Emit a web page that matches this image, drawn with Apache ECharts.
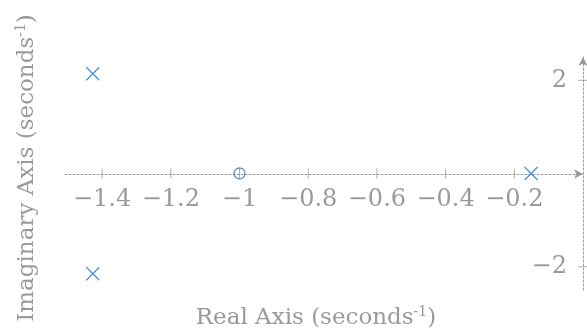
<!DOCTYPE html>
<html>
<head>
<meta charset="utf-8">
<script src="https://cdn.jsdelivr.net/npm/echarts@6/dist/echarts.min.js"></script>
<style>html,body{margin:0;padding:0;background:#fff}#c{width:587px;height:333px}</style>
</head>
<body>
<div id="c"></div>
<script>
const poleRe = [-1.427, -1.427, -0.151];
const poleIm = [2.14, -2.15, 0];
const zeroRe = [-1.0];
const zeroIm = [0];
const xTicks = [-1.4, -1.2, -1, -0.8, -0.6, -0.4, -0.2];
const yTicks = [-2, 2];
const xTitle = 'Real Axis (seconds';
const yTitle = 'Imaginary Axis (seconds';

const GRAY = '#9a9a9a';
const BLUE = '#1a78cc';
const FONT = 'DejaVu Serif';

function fmt(v) {
  const s = String(Math.abs(v));
  return v < 0 ? '\u2212' + s : s;
}

const chart = echarts.init(document.getElementById('c'), null, {renderer: 'canvas'});
chart.setOption({
  animation: false,
  grid: {left: 65, right: 4, top: 57, bottom: 43},
  xAxis: {
    type: 'value', min: -1.508, max: 0,
    position: 'bottom', offset: -116,
    axisLine: {show: true, onZero: false, symbol: ['none', 'arrow'], symbolSize: [7, 9],
      lineStyle: {color: GRAY, width: 1, type: [2, 2]}},
    axisTick: {show: false},
    splitLine: {show: false},
    axisLabel: {customValues: xTicks, formatter: fmt, color: GRAY, fontFamily: FONT, fontSize: 24, margin: 14}
  },
  yAxis: {
    type: 'value', min: -2.5, max: 2.5,
    position: 'right',
    axisLine: {show: true, onZero: false, symbol: ['none', 'arrow'], symbolSize: [7, 9],
      lineStyle: {color: GRAY, width: 1, type: [2, 2]}},
    axisTick: {show: false},
    splitLine: {show: false},
    axisLabel: {inside: true, customValues: yTicks, formatter: fmt, color: GRAY, fontFamily: FONT, fontSize: 24, margin: 16}
  },
  series: [
    {
      type: 'scatter', silent: true, z: 1,
      symbol: 'rect', symbolSize: [1, 10],
      itemStyle: {color: GRAY},
      data: xTicks.map(v => [v, 0])
    },
    {
      type: 'scatter', silent: true, z: 1,
      symbol: 'rect', symbolSize: [10, 1],
      itemStyle: {color: GRAY},
      data: yTicks.map(v => [0, v])
    },
    {
      type: 'scatter', name: 'Poles', z: 3,
      symbol: 'path://M0,0L10,10M10,0L0,10', symbolSize: 13,
      itemStyle: {color: 'none', borderColor: BLUE, borderWidth: 1.3},
      data: poleRe.map((r, i) => [r, poleIm[i]])
    },
    {
      type: 'scatter', name: 'Zeros', z: 3,
      symbol: 'circle', symbolSize: 11,
      itemStyle: {color: 'rgba(0,0,0,0)', borderColor: BLUE, borderWidth: 1.3},
      data: zeroRe.map((r, i) => [r, zeroIm[i]])
    }
  ],
  graphic: [
    {
      type: 'text', x: 316, y: 318,
      style: {
        text: '{a|' + xTitle + '}{s|-1}{a|)}',
        align: 'center', verticalAlign: 'middle',
        rich: {
          a: {fontFamily: FONT, fontSize: 23, fill: GRAY, lineHeight: 26},
          s: {fontFamily: FONT, fontSize: 14, fill: GRAY, verticalAlign: 'top', lineHeight: 12}
        }
      }
    },
    {
      type: 'text', x: 27, y: 168, rotation: Math.PI / 2,
      style: {
        text: '{a|' + yTitle + '}{s|-1}{a|)}',
        align: 'center', verticalAlign: 'middle',
        rich: {
          a: {fontFamily: FONT, fontSize: 23, fill: GRAY, lineHeight: 26},
          s: {fontFamily: FONT, fontSize: 14, fill: GRAY, verticalAlign: 'top', lineHeight: 12}
        }
      }
    }
  ]
});
</script>
</body>
</html>
